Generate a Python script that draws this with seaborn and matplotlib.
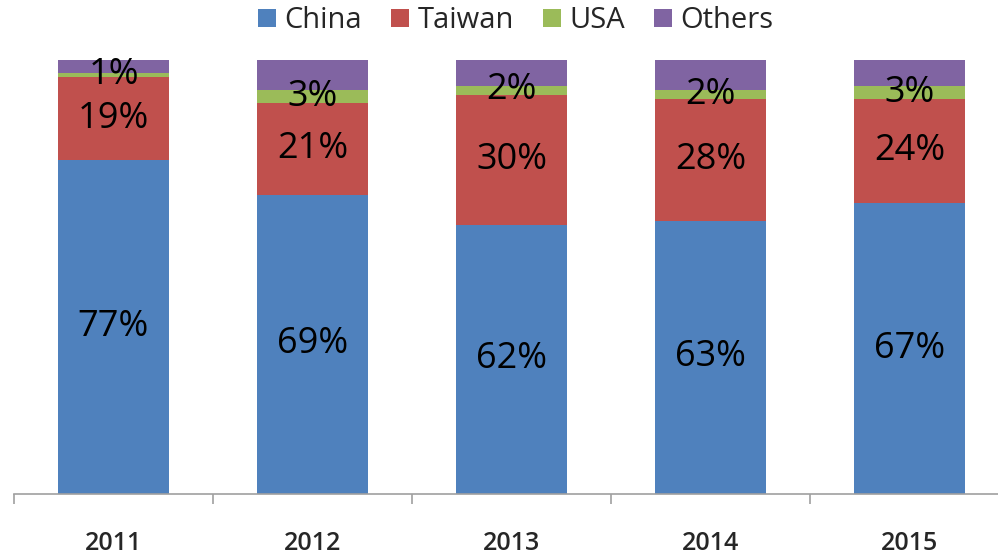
import pandas as pd
import numpy as np
import seaborn as sns
import matplotlib.pyplot as plt

years = ["2011", "2012", "2013", "2014", "2015"]
series = ["China", "Taiwan", "USA", "Others"]
china = [77, 69, 62, 63, 67]
taiwan = [19, 21, 30, 28, 24]
usa = [1, 3, 2, 2, 3]
others = [3, 7, 6, 7, 6]
colors = ["#4F81BD", "#C0504D", "#9BBB59", "#8064A2"]

sns.set_style("white")
plt.rcParams['font.family'] = ['Open Sans', 'DejaVu Sans']

values = [china, taiwan, usa, others]
cum = np.cumsum(np.array(values), axis=0)

fig = plt.figure(figsize=(9.98, 5.56), dpi=100)
ax = fig.add_axes([14 / 998, 62 / 556, 984 / 998, 434 / 556])

# draw cumulative totals from the top down so each layer covers the next
for i in reversed(range(len(series))):
    df = pd.DataFrame({"year": years, "value": cum[i]})
    sns.barplot(data=df, x="year", y="value", color=colors[i], width=0.56,
                saturation=1, ax=ax, label=series[i], linewidth=0)

# segment labels (Others not labelled)
for i in range(3):
    for j, y in enumerate(years):
        mid = cum[i][j] - values[i][j] / 2
        ax.text(j, mid, f"{values[i][j]}%", ha="center", va="center",
                fontsize=26, color="black")

ax.set_xlabel("")
ax.set_ylabel("")
ax.set_yticks([])
for s in ["top", "right", "left"]:
    ax.spines[s].set_visible(False)
ax.spines["bottom"].set_color("#A0A0A0")
ax.spines["bottom"].set_linewidth(1.2)

ax.set_xticks(np.arange(-0.5, 5, 1), minor=True)
ax.tick_params(axis="x", which="minor", bottom=True, length=7,
               color="#A0A0A0", width=1.2)
ax.tick_params(axis="x", which="major", length=0, pad=27, labelsize=18)
for lbl in ax.get_xticklabels():
    lbl.set_fontweight("semibold")
ax.set_xlim(-0.5, 4.445)
ax.set_ylim(0, 100)

handles, labels = ax.get_legend_handles_labels()
if ax.get_legend():
    ax.get_legend().remove()
order = [labels.index(s) for s in series]
fig.legend([handles[k] for k in order], series, loc="center",
           bbox_to_anchor=(516 / 998, 1 - 21 / 556), ncol=4, frameon=False,
           fontsize=21, handlelength=0.6, handleheight=0.6, handletextpad=0.3,
           columnspacing=1.0)

fig.savefig("out.png", dpi=100)
